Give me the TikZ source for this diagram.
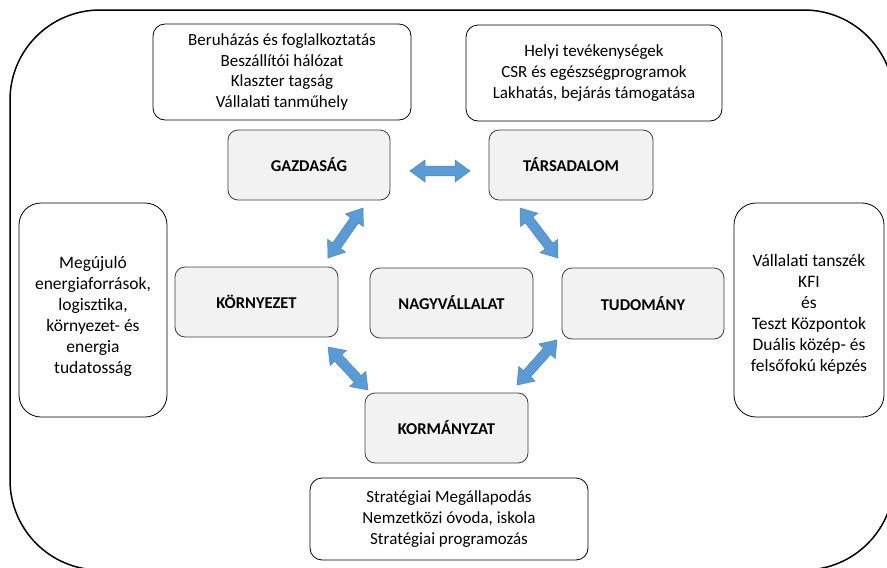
\documentclass[tikz,border=0pt]{standalone}
\usepackage{fontspec}
\setmainfont{Carlito}
\usetikzlibrary{calc}
\definecolor{arrowblue}{HTML}{5B9BD5}
\definecolor{arrowedge}{HTML}{4A86BE}
\definecolor{boxgray}{HTML}{F2F2F2}
\definecolor{boxedge}{HTML}{3F3F3F}
\newcommand{\blockarrow}[2]{%
  \filldraw[arrowshape]
    (#1)
    -- ($(#1)!15pt!(#2)!11pt!90:(#2)$)
    -- ($(#1)!15pt!(#2)!4.8pt!90:(#2)$)
    -- ($(#2)!15pt!(#1)!4.8pt!-90:(#1)$)
    -- ($(#2)!15pt!(#1)!11pt!-90:(#1)$)
    -- (#2)
    -- ($(#2)!15pt!(#1)!11pt!90:(#1)$)
    -- ($(#2)!15pt!(#1)!4.8pt!90:(#1)$)
    -- ($(#1)!15pt!(#2)!4.8pt!-90:(#2)$)
    -- ($(#1)!15pt!(#2)!11pt!-90:(#2)$)
    -- cycle;}
\begin{document}
\begin{tikzpicture}[x=1pt,y=-1pt,
  frame/.style={draw=black, line width=1.5pt, rounded corners=90pt},
  infobox/.style={draw=black, line width=0.8pt, rounded corners=12pt, fill=white,
    inner sep=0pt, align=center, font=\fontsize{17}{20.7}\selectfont},
  sidebox/.style={draw=black, line width=0.8pt, rounded corners=22pt, fill=white,
    inner sep=0pt},
  sidetext/.style={inner sep=0pt, align=center, font=\fontsize{17.5}{21}\selectfont},
  keybox/.style={draw=boxedge, line width=0.8pt, rounded corners=10pt, fill=boxgray,
    inner sep=0pt, font=\fontsize{16.5}{20}\selectfont\bfseries},
  arrowshape/.style={fill=arrowblue, draw=arrowedge, line width=0.5pt, line join=miter}
]
\useasboundingbox (0,0) rectangle (887,568);
\fill[white] (0,0) rectangle (887,568);
\begin{scope}
  \clip (0,0) rectangle (887,568);
  \draw[frame] (10,10) rectangle (894,570);
\end{scope}

% information boxes
\node[infobox, minimum width=258pt, minimum height=96pt] (econinfo) at (282,72)
  {Beruházás és foglalkoztatás\\Beszállítói hálózat\\Klaszter tagság\\Vállalati tanműhely};
\node[infobox, minimum width=256pt, minimum height=96pt] (socinfo) at (594,73)
  {Helyi tevékenységek\\CSR és egészségprogramok\\Lakhatás, bejárás támogatása};
\node[infobox, minimum width=278pt, minimum height=82pt] (govinfo) at (449,519)
  {Stratégiai Megállapodás\\Nemzetközi óvoda, iskola\\Stratégiai programozás};
\node[sidebox, minimum width=148pt, minimum height=214pt] (envinfo) at (93,310) {};
\node[sidetext] (envtext) at (93,316)
  {Megújuló\\energiaforrások,\\logisztika,\\környezet- és\\energia\\tudatosság};
\node[sidebox, minimum width=150pt, minimum height=214pt] (sciinfo) at (809,310) {};
\node[sidetext] (scitext) at (809,314)
  {Vállalati tanszék\\KFI\\és\\Teszt Központok\\Duális közép- és\\felsőfokú képzés};

% key boxes
\node[keybox, minimum width=162pt, minimum height=70pt] (gaz) at (309,165) {GAZDASÁG};
\node[keybox, minimum width=164pt, minimum height=70pt] (tar) at (571,165) {TÁRSADALOM};
\node[keybox, minimum width=163pt, minimum height=70pt] (kor) at (256.5,302) {KÖRNYEZET};
\node[keybox, minimum width=163pt, minimum height=70pt] (nagy) at (451.5,303) {NAGYVÁLLALAT};
\node[keybox, minimum width=162pt, minimum height=71pt] (tud) at (643,303.5) {TUDOMÁNY};
\node[keybox, minimum width=163pt, minimum height=70pt] (korm) at (446.5,428) {KORMÁNYZAT};

% arrow end points
\coordinate (gt1) at (410,171);
\coordinate (gt2) at (470,171);
\coordinate (gk1) at (363,208);
\coordinate (gk2) at (328,258);
\coordinate (tt1) at (520,208);
\coordinate (tt2) at (558,258);
\coordinate (kk1) at (328,347);
\coordinate (kk2) at (368,390);
\coordinate (uk1) at (557,340);
\coordinate (uk2) at (517,385);

\blockarrow{gt1}{gt2}
\blockarrow{gk1}{gk2}
\blockarrow{tt1}{tt2}
\blockarrow{kk1}{kk2}
\blockarrow{uk1}{uk2}
\end{tikzpicture}
\end{document}
